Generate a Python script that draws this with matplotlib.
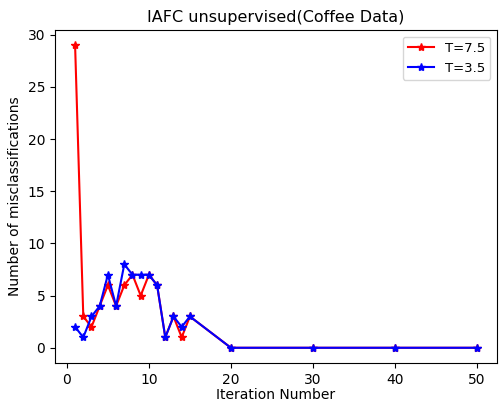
import matplotlib
matplotlib.use("Agg")
import matplotlib.pyplot as plt

iterations = [1, 2, 3, 4, 5, 6, 7, 8, 9, 10, 11, 12, 13, 14, 15, 20, 30, 40, 50]
err_t75 = [29, 3, 2, 4, 6, 4, 6, 7, 5, 7, 6, 1, 3, 1, 3, 0, 0, 0, 0]
err_t35 = [2, 1, 3, 4, 7, 4, 8, 7, 7, 7, 6, 1, 3, 2, 3, 0, 0, 0, 0]

fig = plt.figure(figsize=(5, 4.01), dpi=100)
ax = fig.add_axes([0.11, 0.095, 0.884, 0.83])
ax.plot(iterations, err_t75, "r*-", label="T=7.5")
ax.plot(iterations, err_t35, "b*-", label="T=3.5")
ax.set_title("IAFC unsupervised(Coffee Data)", fontsize=11.5)
ax.set_xlabel("Iteration Number", fontsize=10, labelpad=1)
ax.set_ylabel("Number of misclassifications", fontsize=10)
ax.tick_params(labelsize=10)
ax.legend(fontsize=9.5)
fig.savefig("out.png", dpi=100)
